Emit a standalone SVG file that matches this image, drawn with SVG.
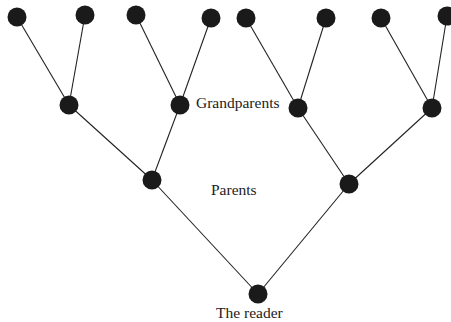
<svg xmlns="http://www.w3.org/2000/svg" width="451" height="322" viewBox="0 0 451 322">
  <style>
    .node { fill: #1a1a1a; }
    .edge { stroke: #222; stroke-width: 1.1; fill: none; }
    .label { font-family: "Liberation Serif", "Times New Roman", serif; font-size: 15.5px; fill: #222; }
  </style>
  <rect width="451" height="322" fill="#fff"/>
  <g id="connectors">
    <line class="edge" x1="17" y1="17" x2="69" y2="105"/>
    <line class="edge" x1="85" y1="15" x2="69" y2="105"/>
    <line class="edge" x1="136" y1="15" x2="180" y2="105"/>
    <line class="edge" x1="211" y1="18" x2="180" y2="105"/>
    <line class="edge" x1="246" y1="18" x2="298" y2="108"/>
    <line class="edge" x1="326" y1="18" x2="298" y2="108"/>
    <line class="edge" x1="381" y1="18" x2="432" y2="108"/>
    <line class="edge" x1="447" y1="16" x2="432" y2="108"/>
    <line class="edge" x1="69" y1="105" x2="152" y2="180"/>
    <line class="edge" x1="180" y1="105" x2="152" y2="180"/>
    <line class="edge" x1="298" y1="108" x2="349" y2="184"/>
    <line class="edge" x1="432" y1="108" x2="349" y2="184"/>
    <line class="edge" x1="152" y1="180" x2="258" y2="294"/>
    <line class="edge" x1="349" y1="184" x2="258" y2="294"/>
  </g>
  <g id="gg1"><circle class="node" cx="17" cy="17" r="9.5"/></g>
  <g id="gg2"><circle class="node" cx="85" cy="15" r="9.5"/></g>
  <g id="gg3"><circle class="node" cx="136" cy="15" r="9.5"/></g>
  <g id="gg4"><circle class="node" cx="211" cy="18" r="9.5"/></g>
  <g id="gg5"><circle class="node" cx="246" cy="18" r="9.5"/></g>
  <g id="gg6"><circle class="node" cx="326" cy="18" r="9.5"/></g>
  <g id="gg7"><circle class="node" cx="381" cy="18" r="9.5"/></g>
  <g id="gg8"><circle class="node" cx="447" cy="16" r="9.5"/></g>
  <g id="gp1"><circle class="node" cx="69" cy="105" r="9.5"/></g>
  <g id="gp2"><circle class="node" cx="180" cy="105" r="9.5"/>
    <text class="label" x="196" y="108">Grandparents</text>
  </g>
  <g id="gp3"><circle class="node" cx="298" cy="108" r="9.5"/></g>
  <g id="gp4"><circle class="node" cx="432" cy="108" r="9.5"/></g>
  <g id="p1"><circle class="node" cx="152" cy="180" r="9.5"/></g>
  <g id="p2"><circle class="node" cx="349" cy="184" r="9.5"/></g>
  <g id="parents-label"><text class="label" x="211" y="195">Parents</text></g>
  <g id="reader"><circle class="node" cx="258" cy="294" r="9.5"/>
    <text class="label" x="216" y="318">The reader</text>
  </g>
</svg>
